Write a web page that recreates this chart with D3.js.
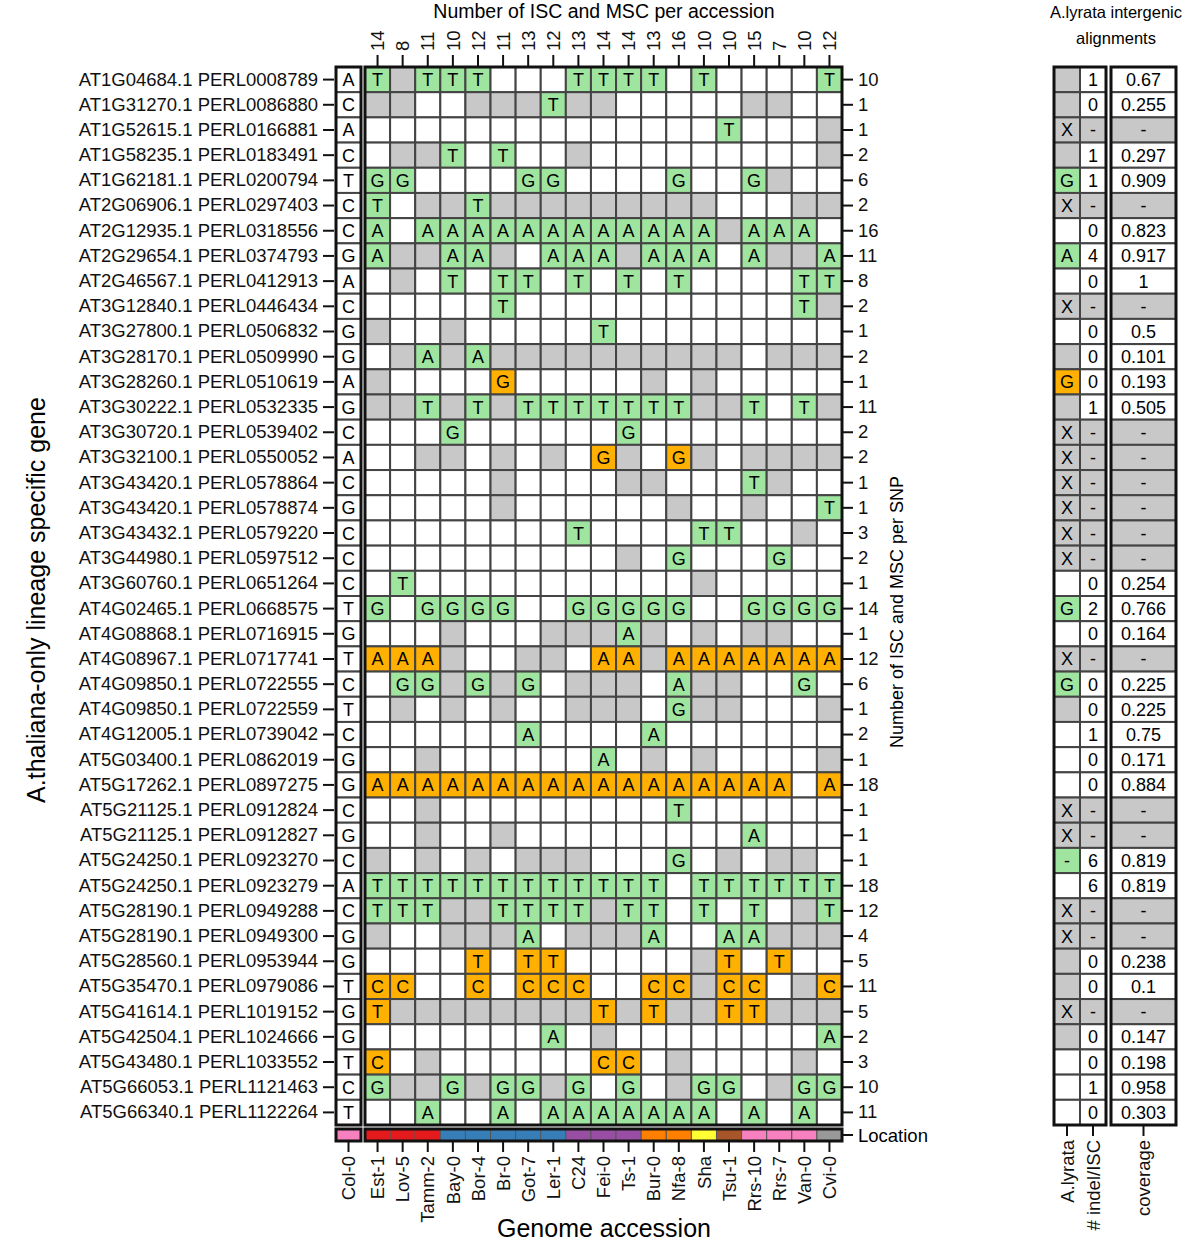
<!DOCTYPE html>
<html><head><meta charset="utf-8">
<script src="https://cdn.jsdelivr.net/npm/d3@7/dist/d3.min.js"></script>
<style>body{margin:0;background:#fff}svg{display:block;font-family:"Liberation Sans",Arial,sans-serif}</style>
</head><body><svg id="c" width="1200" height="1253"></svg>
<script>
const genes = ["AT1G04684.1 PERL0008789","AT1G31270.1 PERL0086880","AT1G52615.1 PERL0166881","AT1G58235.1 PERL0183491","AT1G62181.1 PERL0200794","AT2G06906.1 PERL0297403","AT2G12935.1 PERL0318556","AT2G29654.1 PERL0374793","AT2G46567.1 PERL0412913","AT3G12840.1 PERL0446434","AT3G27800.1 PERL0506832","AT3G28170.1 PERL0509990","AT3G28260.1 PERL0510619","AT3G30222.1 PERL0532335","AT3G30720.1 PERL0539402","AT3G32100.1 PERL0550052","AT3G43420.1 PERL0578864","AT3G43420.1 PERL0578874","AT3G43432.1 PERL0579220","AT3G44980.1 PERL0597512","AT3G60760.1 PERL0651264","AT4G02465.1 PERL0668575","AT4G08868.1 PERL0716915","AT4G08967.1 PERL0717741","AT4G09850.1 PERL0722555","AT4G09850.1 PERL0722559","AT4G12005.1 PERL0739042","AT5G03400.1 PERL0862019","AT5G17262.1 PERL0897275","AT5G21125.1 PERL0912824","AT5G21125.1 PERL0912827","AT5G24250.1 PERL0923270","AT5G24250.1 PERL0923279","AT5G28190.1 PERL0949288","AT5G28190.1 PERL0949300","AT5G28560.1 PERL0953944","AT5G35470.1 PERL0979086","AT5G41614.1 PERL1019152","AT5G42504.1 PERL1024666","AT5G43480.1 PERL1033552","AT5G66053.1 PERL1121463","AT5G66340.1 PERL1122264"];
const refBases = ["A","C","A","C","T","C","C","G","A","C","G","G","A","G","C","A","C","G","C","C","C","T","G","T","C","T","C","G","G","C","G","C","A","C","G","G","T","G","G","T","C","T"];
const accessions = ["Est-1","Lov-5","Tamm-2","Bay-0","Bor-4","Br-0","Got-7","Ler-1","C24","Fei-0","Ts-1","Bur-0","Nfa-8","Sha","Tsu-1","Rrs-10","Rrs-7","Van-0","Cvi-0"];
const perAccessionCounts = [14,8,11,10,12,11,13,12,13,14,14,13,16,10,10,15,7,10,12];
// '.' = white, '#' = grey, uppercase = green SNP, lowercase = orange SNP
const snpStates = [
"T#TTT...TTTT.T....T","##..###T##.....##..","..............T...#",".##T.T..#.........#","GG....GG....G..G#..",
"T.##T#########...##","A.AAAAAAAAAAAA#AAA.","A##AA#.AAA#AAA.A##A",".#.T.TT.T.T.T....TT",".....T...........T#",
"#..#.....T.........",".#A#A##########.###","#....g.....#.#.....","##T#T#TTTTTTT##T.T#","...G......G........",
"..##.#.#.g#.g#.####",".....#....##...T#..",".....#......#..#..T","........T....TT..#.","..........#.G...G..",
".T...........#.....","G.GGGG..GGGGG..GGGG","...#...###A#.#.##..","aaa#..##.aa#aaaaaaa",".GG#G#G.###.A##..G.",
".#.#.#..###.G##...#","......A....A.......","..#......A.#.#....#","aaaaaaaaaaaaaaaaa.a","..#.........T......",
"..#..#.........A...","#.#.#.###...G.#.##.","TTTTTTTTTTTT.TTTTTT","TTT##TTTT#TT.T.T.#T","#..###A.###A..AA###",
"....t.tt.....#t.t..","cc..c.ccc..cc#cc.#c","t########t#t##tt###",".......A.#........A","c.#......cc.#....#.",
"G##G#GG#G.G.#GG.#GG","..A..A.AAAAAAA.A.A."];
const perSnpCounts = [10,1,1,2,6,2,16,11,8,2,1,2,1,11,2,2,1,1,3,2,1,14,1,12,6,1,2,1,18,1,1,1,18,12,4,5,11,5,2,3,10,11];
const locationGroups = ["pink","red","red","red","blue","blue","blue","blue","blue","purple","purple","purple","orange","orange","yellow","brown","pink","pink","pink","grey"]; // Col-0 first
const lyrataState = ["#","#","X","#","G","X",".","A",".","X",".","#","g","#","X","X","X","X","X","X",".","G",".","X","G","#",".",".",".","X","X","-",".","X","X","#","#","X","#",".",".","."];
const indelPerISC = ["1","0","-","1","1","-","0","4","0","-","0","0","0","1","-","-","-","-","-","-","0","2","0","-","0","0","1","0","0","-","-","6","6","-","-","0","0","-","0","0","1","0"];
const coverage = ["0.67","0.255","-","0.297","0.909","-","0.823","0.917","1","-","0.5","0.101","0.193","0.505","-","-","-","-","-","-","0.254","0.766","0.164","-","0.225","0.225","0.75","0.171","0.884","-","-","0.819","0.819","-","-","0.238","0.1","-","0.147","0.198","0.958","0.303"];

const GREEN="#9fe59f", ORANGE="#ffb000", GREY="#c8c8c8", LINE="#444";
const locColor = {pink:"#f781bf",red:"#e41a1c",blue:"#377eb8",purple:"#984ea3",orange:"#ff7f00",yellow:"#ffff33",brown:"#a65628",grey:"#999999"};
const FS = 18.5, CFS = 18;

const svg = d3.select("#c");
const y = d3.scaleBand().domain(d3.range(genes.length)).range([67,1125]);
const x = d3.scaleBand().domain(accessions).range([365,842]);
const xRef = d3.scaleBand().domain(["Col-0"]).range([336,361]);
const xR = d3.scaleBand().domain(["A.lyrata","# indel/ISC"]).range([1054,1106]);
const xCov = d3.scaleBand().domain(["coverage"]).range([1111,1176]);

function fillOf(s){ if(s==="."||s===undefined) return "#fff"; if(s==="#"||s==="X") return GREY; if(s==="-") return GREEN; return s===s.toUpperCase()?GREEN:ORANGE; }
function textOf(s){ if(s==="."||s==="#") return ""; return s.toUpperCase(); }

// main grid
const cells=[];
snpStates.forEach((row,i)=>row.split("").forEach((s,j)=>cells.push({i,acc:accessions[j],s})));
const g = svg.append("g");
g.selectAll("rect.cell").data(cells).join("rect")
 .attr("x",d=>x(d.acc)).attr("y",d=>y(d.i)).attr("width",x.bandwidth()).attr("height",y.bandwidth())
 .attr("fill",d=>fillOf(d.s)).attr("stroke",LINE).attr("stroke-width",2);
g.selectAll("text.cell").data(cells.filter(d=>textOf(d.s))).join("text")
 .attr("x",d=>x(d.acc)+x.bandwidth()/2).attr("y",d=>y(d.i)+y.bandwidth()/2).attr("dy","0.36em")
 .attr("text-anchor","middle").attr("font-size",CFS).text(d=>textOf(d.s));
svg.append("rect").attr("x",365).attr("y",67).attr("width",477).attr("height",1058).attr("fill","none").attr("stroke","#111").attr("stroke-width",3);

// reference column
g.selectAll("rect.ref").data(refBases).join("rect").attr("x",xRef("Col-0")).attr("y",(d,i)=>y(i)).attr("width",xRef.bandwidth()).attr("height",y.bandwidth()).attr("fill","#fff").attr("stroke",LINE).attr("stroke-width",2);
g.selectAll("text.ref").data(refBases).join("text").attr("x",xRef("Col-0")+xRef.bandwidth()/2).attr("y",(d,i)=>y(i)+y.bandwidth()/2).attr("dy","0.36em").attr("text-anchor","middle").attr("font-size",CFS).text(d=>d);
svg.append("rect").attr("x",336).attr("y",67).attr("width",25).attr("height",1058).attr("fill","none").attr("stroke","#111").attr("stroke-width",3);

// left axis (genes)
const la = svg.append("g").attr("transform","translate(334,0)").call(d3.axisLeft(y).tickSize(11).tickFormat(i=>genes[i]));
la.select(".domain").remove();
la.selectAll("line").attr("stroke","#111").attr("stroke-width",2);
la.selectAll("text").attr("font-size",FS).attr("font-family","Liberation Sans, Arial").attr("fill","#111").attr("x",-16);

// right axis (counts per SNP)
const ra = svg.append("g").attr("transform","translate(842,0)").call(d3.axisRight(y).tickSize(11).tickFormat(i=>perSnpCounts[i]));
ra.select(".domain").remove();
ra.selectAll("line").attr("stroke","#111").attr("stroke-width",2);
ra.selectAll("text").attr("font-size",FS).attr("font-family","Liberation Sans, Arial").attr("fill","#111").attr("x",16);

// top axis (counts per accession)
const ta = svg.append("g").attr("transform","translate(0,67)").call(d3.axisTop(x).tickSize(12).tickFormat((d,i)=>perAccessionCounts[i]));
ta.select(".domain").remove();
ta.selectAll("line").attr("stroke","#111").attr("stroke-width",2);
ta.selectAll("text").attr("font-size",FS).attr("font-family","Liberation Sans, Arial").attr("fill","#111")
  .attr("transform","rotate(-90)").attr("x",16).attr("y",0).attr("dy","0.36em").attr("text-anchor","start");

// location bar
const locY0=1129, locH=12;
svg.append("rect").attr("x",xRef("Col-0")).attr("y",locY0).attr("width",xRef.bandwidth()).attr("height",locH).attr("fill",locColor[locationGroups[0]]).attr("stroke","#222").attr("stroke-width",1);
svg.selectAll("rect.loc").data(accessions).join("rect").attr("x",d=>x(d)).attr("y",locY0).attr("width",x.bandwidth()).attr("height",locH)
 .attr("fill",(d,i)=>locColor[locationGroups[i+1]]).attr("stroke","#555").attr("stroke-width",1);
svg.append("rect").attr("x",336).attr("y",locY0).attr("width",25).attr("height",locH).attr("fill","none").attr("stroke","#111").attr("stroke-width",3);
svg.append("rect").attr("x",365).attr("y",locY0).attr("width",477).attr("height",locH).attr("fill","none").attr("stroke","#111").attr("stroke-width",3);
svg.append("line").attr("x1",842).attr("x2",853).attr("y1",locY0+locH/2).attr("y2",locY0+locH/2).attr("stroke","#111").attr("stroke-width",2);
svg.append("text").attr("x",858).attr("y",locY0+locH/2).attr("dy","0.36em").attr("font-size",FS).text("Location");

// bottom axis (accessions)
function bottomAxis(scale, y0){
  const ba = svg.append("g").attr("transform",`translate(0,${y0})`).call(d3.axisBottom(scale).tickSize(11));
  ba.select(".domain").remove();
  ba.selectAll("line").attr("stroke","#111").attr("stroke-width",2);
  ba.selectAll("text").attr("font-size",FS).attr("font-family","Liberation Sans, Arial").attr("fill","#111")
    .attr("transform","rotate(-90)").attr("x",-15).attr("y",0).attr("dy","0.36em").attr("text-anchor","end");
}
bottomAxis(xRef, locY0+locH);
bottomAxis(x, locY0+locH);

// right panel
const rg = svg.append("g");
rg.selectAll("rect.aly").data(lyrataState).join("rect").attr("x",xR("A.lyrata")).attr("y",(d,i)=>y(i)).attr("width",xR.bandwidth()).attr("height",y.bandwidth()).attr("fill",d=>fillOf(d)).attr("stroke",LINE).attr("stroke-width",2);
rg.selectAll("text.aly").data(lyrataState).join("text").attr("x",xR("A.lyrata")+xR.bandwidth()/2).attr("y",(d,i)=>y(i)+y.bandwidth()/2).attr("dy","0.36em").attr("text-anchor","middle").attr("font-size",CFS).text(d=>textOf(d));
rg.selectAll("rect.ind").data(indelPerISC).join("rect").attr("x",xR("# indel/ISC")).attr("y",(d,i)=>y(i)).attr("width",xR.bandwidth()).attr("height",y.bandwidth()).attr("fill",d=>d==="-"?GREY:"#fff").attr("stroke",LINE).attr("stroke-width",2);
rg.selectAll("text.ind").data(indelPerISC).join("text").attr("x",xR("# indel/ISC")+xR.bandwidth()/2).attr("y",(d,i)=>y(i)+y.bandwidth()/2).attr("dy","0.36em").attr("text-anchor","middle").attr("font-size",CFS).text(d=>d);
rg.selectAll("rect.cov").data(coverage).join("rect").attr("x",xCov("coverage")).attr("y",(d,i)=>y(i)).attr("width",xCov.bandwidth()).attr("height",y.bandwidth()).attr("fill",d=>d==="-"?GREY:"#fff").attr("stroke",LINE).attr("stroke-width",2);
rg.selectAll("text.cov").data(coverage).join("text").attr("x",xCov("coverage")+xCov.bandwidth()/2).attr("y",(d,i)=>y(i)+y.bandwidth()/2).attr("dy","0.36em").attr("text-anchor","middle").attr("font-size",CFS).text(d=>d);
svg.append("rect").attr("x",1054).attr("y",67).attr("width",52).attr("height",1058).attr("fill","none").attr("stroke","#111").attr("stroke-width",3);
svg.append("rect").attr("x",1111).attr("y",67).attr("width",65).attr("height",1058).attr("fill","none").attr("stroke","#111").attr("stroke-width",3);
bottomAxis(xR, 1125);
bottomAxis(xCov, 1125);

// titles
svg.append("text").attr("x",604).attr("y",18).attr("text-anchor","middle").attr("font-size",19.5).text("Number of ISC and MSC per accession");
svg.append("text").attr("x",1116).attr("y",18).attr("text-anchor","middle").attr("font-size",16.5).text("A.lyrata intergenic");
svg.append("text").attr("x",1116).attr("y",44).attr("text-anchor","middle").attr("font-size",16.5).text("alignments");
svg.append("text").attr("x",604).attr("y",1237).attr("text-anchor","middle").attr("font-size",25).text("Genome accession");
svg.append("text").attr("transform","translate(36,600) rotate(-90)").attr("dy","0.36em").attr("text-anchor","middle").attr("font-size",25).text("A.thaliana-only lineage specific gene");
svg.append("text").attr("transform","translate(897,612) rotate(-90)").attr("dy","0.36em").attr("text-anchor","middle").attr("font-size",18).text("Number of ISC and MSC per SNP");
</script></body></html>
